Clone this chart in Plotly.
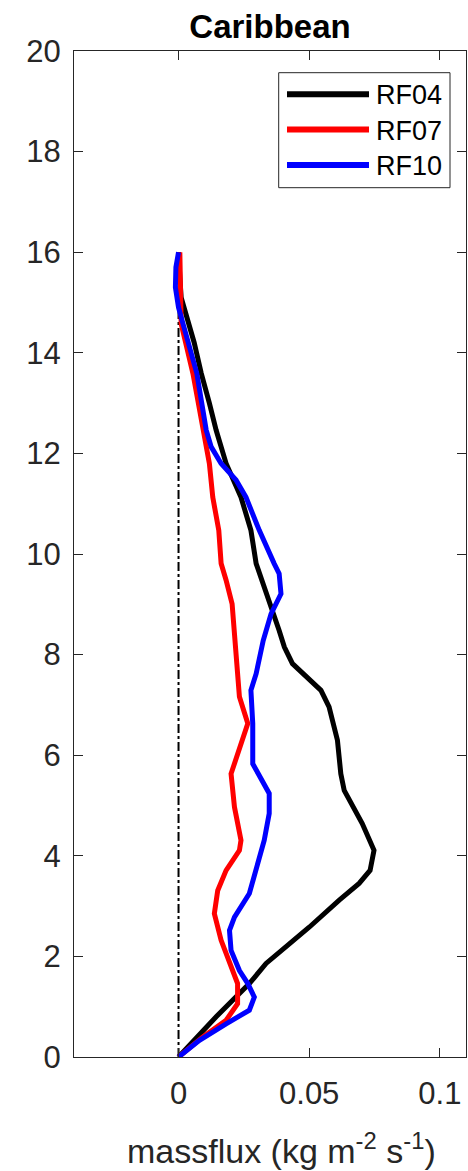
import plotly.graph_objects as go

# Heights (km) and massflux values (kg m-2 s-1)
rf04_z = [0, 0.8, 1.46, 1.86, 2.25, 2.58, 3.12, 3.45, 3.71, 4.11, 4.64, 5.30, 5.63, 6.30,
          6.96, 7.29, 7.82, 8.15, 8.48, 9.15, 9.81, 10.47, 11.13, 11.80, 12.46, 13.0,
          13.59, 14.2, 14.58, 15.1, 15.5, 16.0]
rf04_m = [0, 0.0144, 0.0271, 0.0335, 0.0424, 0.05, 0.0615, 0.0691, 0.0733, 0.0748, 0.0703,
          0.0634, 0.0621, 0.0608, 0.0576, 0.0545, 0.0436, 0.0405, 0.0385, 0.0341, 0.0297,
          0.0277, 0.0239, 0.0182, 0.0144, 0.0118, 0.0087, 0.006, 0.0039, 0.001, 0.0005, 0.0]

rf07_z = [0, 0.40, 0.73, 1.06, 1.46, 1.86, 2.32, 2.85, 3.31, 3.71, 4.11, 4.31, 4.64, 4.97,
          5.63, 6.10, 6.63, 7.16, 7.62, 8.2, 9.01, 9.48, 9.81, 10.47, 11.13, 11.80, 12.46,
          13.59, 14.58, 15.24, 16.0]
rf07_m = [0, 0.0093, 0.0182, 0.0226, 0.0226, 0.0195, 0.0163, 0.0137, 0.015, 0.0182, 0.0233,
          0.0239, 0.0226, 0.0214, 0.0201, 0.0233, 0.0265, 0.0233, 0.0226, 0.0217, 0.0205,
          0.0182, 0.0163, 0.0154, 0.0131, 0.0118, 0.0093, 0.0055, 0.001, 0.0006, 0.0005]

rf10_z = [0, 0.33, 0.66, 0.93, 1.19, 1.46, 1.72, 2.12, 2.52, 2.78, 3.25, 3.71, 4.31, 4.84,
          5.24, 5.83, 6.63, 7.29, 7.62, 8.28, 8.81, 9.21, 9.61, 9.81, 10.47, 11.13, 11.47,
          11.80, 12.13, 12.46, 13.59, 14.58, 14.9, 15.3, 15.7, 16.0]
rf10_m = [0, 0.008, 0.0182, 0.0271, 0.029, 0.0265, 0.0233, 0.0201, 0.0195, 0.0214, 0.0271,
          0.0297, 0.0328, 0.0347, 0.0347, 0.0284, 0.0284, 0.0277, 0.0297, 0.0324, 0.0354,
          0.0392, 0.0385, 0.0366, 0.0309, 0.0258, 0.022, 0.0163, 0.0125, 0.0106, 0.007,
          0.0017, 0.0, -0.0012, -0.0010, 0.0]

zero_z = [0, 16.0]
zero_m = [0, 0]

series_names = ["RF04", "RF07", "RF10"]
series_colors = ["black", "#ff0000", "#0000ff"]

x_ticks = [0, 0.05, 0.1]
x_labels = ["0", "0.05", "0.1"]
y_ticks = list(range(0, 21, 2))

FONT = "Liberation Sans, Arial, sans-serif"
AX = "#262626"
W, H = 468, 1171
ML, MR, MT, MB = 74, 2, 51, 114
PW, PH = W - ML - MR, H - MT - MB


def px(xpix):
    return (xpix - ML) / PW


def py(ypix):
    return (H - MB - ypix) / PH


fig = go.Figure()
fig.add_trace(go.Scatter(x=zero_m, y=zero_z, mode="lines", showlegend=False,
                         line=dict(color="black", width=2, dash="dashdot")))
for name, col, xs, ys in zip(series_names, series_colors,
                             [rf04_m, rf07_m, rf10_m], [rf04_z, rf07_z, rf10_z]):
    fig.add_trace(go.Scatter(x=xs, y=ys, mode="lines", name=name, showlegend=False,
                             line=dict(color=col, width=5)))

# manual legend (box, line samples, labels)
shapes = [dict(type="rect", xref="paper", yref="paper",
               x0=px(278.7), x1=px(450), y0=py(187.7), y1=py(72.7),
               line=dict(color=AX, width=1), fillcolor="white", layer="above")]
annotations = []
for i, (name, col) in enumerate(zip(series_names, series_colors)):
    yc = 94.3 + i * 35.3
    shapes.append(dict(type="line", xref="paper", yref="paper",
                       x0=px(287), x1=px(369), y0=py(yc), y1=py(yc),
                       line=dict(color=col, width=6), layer="above"))
    annotations.append(dict(text=name, xref="paper", yref="paper", x=px(374), y=py(yc + 1),
                            xanchor="left", yanchor="middle", showarrow=False,
                            font=dict(size=27, color="black", family=FONT)))

annotations.append(dict(text="massflux (kg m<sup>-2</sup> s<sup>-1</sup>)",
                        xref="paper", yref="paper", x=px(281), y=py(1148),
                        xanchor="center", yanchor="middle", showarrow=False,
                        font=dict(size=34, color=AX, family=FONT)))

fig.update_layout(
    width=W, height=H,
    margin=dict(l=ML, r=MR, t=MT, b=MB),
    paper_bgcolor="white", plot_bgcolor="white",
    font=dict(family=FONT, color=AX),
    showlegend=False,
    title=dict(text="<b>Caribbean</b>", x=0.5, xref="paper", xanchor="center",
               y=1 - 26 / H, yanchor="middle", yref="container",
               font=dict(size=33, color="black", family=FONT)),
    xaxis=dict(range=[-0.04, 0.11], tickvals=x_ticks, ticktext=x_labels,
               ticks="inside", ticklen=9, tickcolor=AX, showline=True, linecolor=AX,
               linewidth=1, mirror="ticks", showgrid=False, zeroline=False,
               tickfont=dict(size=31, color=AX), ticklabelstandoff=9),
    yaxis=dict(range=[0, 20], tickvals=y_ticks,
               ticks="inside", ticklen=9, tickcolor=AX, showline=True, linecolor=AX,
               linewidth=1, mirror="ticks", showgrid=False, zeroline=False,
               tickfont=dict(size=31, color=AX), ticklabelstandoff=6),
    shapes=shapes,
    annotations=annotations,
)

fig.write_html("out.html")
